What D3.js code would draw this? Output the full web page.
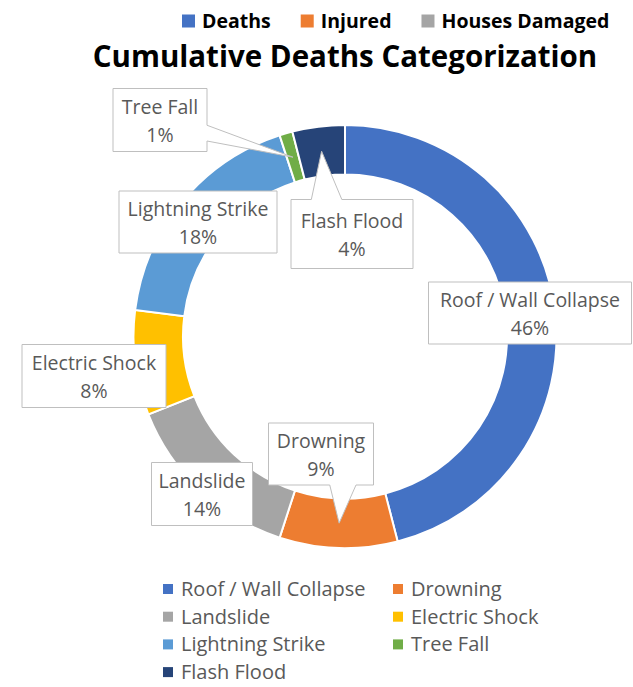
<!DOCTYPE html>
<html>
<head>
<meta charset="utf-8">
<script src="https://cdn.jsdelivr.net/npm/d3@7"></script>
<style>
  body { margin: 0; background: #fff; }
  text { font-family: "Open Sans", Lato, sans-serif; }
</style>
</head>
<body>
<div id="chart"></div>
<script>
// data
const categories = ["Roof / Wall Collapse", "Drowning", "Landslide", "Electric Shock", "Lightning Strike", "Tree Fall", "Flash Flood"];
const values = [46, 9, 14, 8, 18, 1, 4];
const colors = ["#4472C4", "#ED7D31", "#A5A5A5", "#FFC000", "#5B9BD5", "#70AD47", "#264478"];
const seriesNames = ["Deaths", "Injured", "Houses Damaged"];
const seriesColors = ["#4472C4", "#ED7D31", "#A5A5A5"];
const title = "Cumulative Deaths Categorization";

// label box layout (centre x, centre y, width, height) per category
const labelBoxes = [
  [530, 313, 203, 62],
  [321, 454, 105, 62],
  [202, 494, 101, 63],
  [94, 376, 144, 63],
  [198, 222, 158, 62],
  [160, 120, 94, 63],
  [352, 234, 122, 69]
];

let width = 633, height = 687;
let cx = 345, cy = 336.5, outerR = 211.5, innerR = 162;

let svg = d3.select("#chart")
  .append("svg")
    .attr("width", width)
    .attr("height", height);

// top series legend
let lx = 182;
seriesNames.forEach(function(name, i) {
  let g = svg.append("g").attr("transform", "translate(" + lx + ",21)");
  g.append("rect")
    .attr("x", 0).attr("y", -6.5)
    .attr("width", 13).attr("height", 13)
    .style("fill", seriesColors[i]);
  let t = g.append("text")
    .attr("x", 20).attr("y", 7)
    .style("font-size", "19.5px")
    .style("font-weight", "bold")
    .style("fill", "#000")
    .text(name);
  lx += 20 + t.node().getComputedTextLength() + 30;
});

svg.append("text")
  .attr("x", cx).attr("y", 67)
  .attr("text-anchor", "middle")
  .style("font-size", "29.5px")
  .style("font-weight", "bold")
  .style("fill", "#000")
  .text(title);

// donut
let pie = d3.pie().sort(null).value(d => d);
let arc = d3.arc().innerRadius(innerR).outerRadius(outerR);
let arcs = pie(values);

let g = svg.append("g").attr("transform", "translate(" + cx + "," + cy + ")");
g.selectAll("path.slice")
  .data(arcs)
  .enter()
  .append("path")
    .attr("class", "slice")
    .attr("d", arc)
    .style("fill", (d, i) => colors[i])
    .style("stroke", "#fff")
    .style("stroke-width", 2);

// callout path: rectangle, plus a wedge when the tip lies outside the box
function callout(b, tip) {
  let w = b[2], h = b[3], x0 = b[0] - w / 2, y0 = b[1] - h / 2, x1 = x0 + w, y1 = y0 + h;
  let tx = tip[0], ty = tip[1];
  if (tx >= x0 && tx <= x1 && ty >= y0 && ty <= y1) {
    return "M" + x0 + "," + y0 + "H" + x1 + "V" + y1 + "H" + x0 + "Z";
  }
  let dx = (tx - b[0]) / w, dy = (ty - b[1]) / h;
  let p = [];
  if (Math.abs(dy) > Math.abs(dx)) {
    let a = dx < 0 ? [w / 6, w * 5 / 12] : [w * 7 / 12, w * 10 / 12];
    if (dy < 0) {
      p = [[x0, y0], [x0 + a[0], y0], [tx, ty], [x0 + a[1], y0], [x1, y0], [x1, y1], [x0, y1]];
    } else {
      p = [[x0, y0], [x1, y0], [x1, y1], [x0 + a[1], y1], [tx, ty], [x0 + a[0], y1], [x0, y1]];
    }
  } else {
    let a = dy < 0 ? [h / 6, h * 5 / 12] : [h * 7 / 12, h * 10 / 12];
    if (dx > 0) {
      p = [[x0, y0], [x1, y0], [x1, y0 + a[0]], [tx, ty], [x1, y0 + a[1]], [x1, y1], [x0, y1]];
    } else {
      p = [[x0, y0], [x1, y0], [x1, y1], [x0, y1], [x0, y0 + a[1]], [tx, ty], [x0, y0 + a[0]]];
    }
  }
  return "M" + p.map(q => q.join(",")).join("L") + "Z";
}

let labels = svg.append("g").selectAll("g")
  .data(arcs)
  .enter()
  .append("g");

labels.append("path")
  .attr("d", function(d, i) {
    let c = arc.centroid(d);
    return callout(labelBoxes[i], [cx + c[0], cy + c[1]]);
  })
  .style("fill", "#fff")
  .style("stroke", "#BFBFBF")
  .style("stroke-width", 1);

labels.append("text")
  .attr("x", (d, i) => labelBoxes[i][0])
  .attr("y", (d, i) => labelBoxes[i][1] - 6)
  .attr("text-anchor", "middle")
  .style("font-size", "19.5px")
  .style("fill", "#595959")
  .text((d, i) => categories[i]);

labels.append("text")
  .attr("x", (d, i) => labelBoxes[i][0])
  .attr("y", (d, i) => labelBoxes[i][1] + 21.5)
  .attr("text-anchor", "middle")
  .style("font-size", "19.5px")
  .style("fill", "#595959")
  .text((d, i) => Math.round(d.value / d3.sum(values) * 100) + "%");

// bottom category legend
let legend = svg.append("g")
  .selectAll("g")
  .data(categories)
  .enter()
  .append("g")
  .attr("transform", (d, i) => "translate(" + (i % 2 ? 393 : 163) + "," + (589 + Math.floor(i / 2) * 27.7) + ")");

legend.append("rect")
  .attr("x", 0).attr("y", -5)
  .attr("width", 10).attr("height", 10)
  .style("fill", (d, i) => colors[i]);

legend.append("text")
  .attr("x", 18).attr("y", 7)
  .style("font-size", "20px")
  .style("fill", "#595959")
  .text(d => d);
</script>
</body>
</html>
